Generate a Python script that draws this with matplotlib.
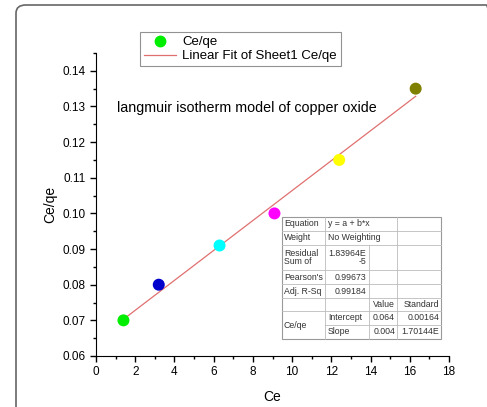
import matplotlib
matplotlib.use("Agg")
import matplotlib.pyplot as plt
from matplotlib.patches import FancyBboxPatch
from matplotlib.lines import Line2D
from matplotlib.ticker import MultipleLocator
import numpy as np

plt.rcParams['font.family'] = ['Liberation Sans', 'DejaVu Sans']

ce = [1.4, 3.2, 6.3, 9.1, 12.4, 16.3]
ce_qe = [0.070, 0.080, 0.091, 0.100, 0.115, 0.135]
point_colors = ['#00ee00', '#0000cc', '#00ffff', '#ff00ff', '#ffff00', '#808000']

table_rows = [
    ["Equation", "y = a + b*x", "", ""],
    ["Weight", "No Weighting", "", ""],
    ["Residual\nSum of", "1.83964E\n-5", "", ""],
    ["Pearson's", "0.99673", "", ""],
    ["Adj. R-Sq", "0.99184", "", ""],
    ["", "", "Value", "Standard"],
    ["Ce/qe", "Intercept", "0.064", "0.00164"],
    ["", "Slope", "0.004", "1.70144E"],
]

W, H = 487, 407
fig = plt.figure(figsize=(W / 100, H / 100), dpi=100)


def fx(px):
    return px / W


def fy(py):
    return 1 - py / H


# rounded outer frame
frame = FancyBboxPatch((fx(16), fy(420)), fx(480), fy(5) - fy(420),
                       boxstyle="round,pad=0,rounding_size=0.02",
                       transform=fig.transFigure, fill=False,
                       edgecolor='#666666', linewidth=1.2)
fig.patches.append(frame)

ax = fig.add_axes([fx(96), fy(356), fx(449) - fx(96), fy(53) - fy(356)])
ax.scatter(ce, ce_qe, c=point_colors, s=58, zorder=3, label='Ce/qe')

slope, intercept = np.polyfit(ce, ce_qe, 1)
xs = np.array([min(ce), max(ce)])
ax.plot(xs, intercept + slope * xs, color='#e07070', linewidth=0.9,
        label='Linear Fit of Sheet1 Ce/qe', zorder=2)

ax.set_xlim(0, 18)
ax.set_ylim(0.06, 0.145)
ax.set_yticks(np.arange(0.06, 0.141, 0.01))
ax.set_xticks(np.arange(0, 19, 2))
ax.yaxis.set_major_formatter(matplotlib.ticker.FormatStrFormatter('%.2f'))
ax.xaxis.set_minor_locator(MultipleLocator(1))
ax.yaxis.set_minor_locator(MultipleLocator(0.005))
ax.spines['top'].set_visible(False)
ax.spines['right'].set_visible(False)
ax.tick_params(which='major', direction='out', length=4, width=1, labelsize=8.5)
ax.tick_params(which='minor', direction='out', length=2.5, width=1)
ax.set_xlabel('Ce', fontsize=10, labelpad=8)
ax.set_ylabel('Ce/qe', fontsize=10)

ax.text(fx(117), fy(108), 'langmuir isotherm model of copper oxide',
        transform=fig.transFigure, fontsize=10.3, va='center', ha='left')

handles = [Line2D([], [], marker='o', color='none', markerfacecolor='#00ee00',
                  markeredgecolor='#00ee00', markersize=7.5),
           Line2D([], [], color='#e07070', linewidth=0.9)]
leg = ax.legend(handles, ['Ce/qe', 'Linear Fit of Sheet1 Ce/qe'],
                bbox_to_anchor=(fx(140), fy(32)), bbox_transform=fig.transFigure,
                loc='upper left', borderaxespad=0, fontsize=9.5, fancybox=False,
                handlelength=2.4, borderpad=0.3, labelspacing=0.15,
                handletextpad=0.5)
leg.get_frame().set_edgecolor('#777777')
leg.get_frame().set_linewidth(0.8)

# fit results table
cols = [282, 325, 369, 397, 441]
rows = [217, 231, 245, 270, 284, 298, 311, 325, 339]
tcol = '#bbbbbb'
fig.patches.append(plt.Rectangle((fx(282), fy(339)), fx(441) - fx(282), fy(217) - fy(339),
                                 transform=fig.transFigure, facecolor='white',
                                 edgecolor='#999999', linewidth=0.8, zorder=5))
for i, r in enumerate(rows[1:-1], start=1):
    x0 = 325 if i == 7 else 282
    fig.add_artist(Line2D([fx(x0), fx(441)], [fy(r), fy(r)], color=tcol, lw=0.6, zorder=6))
fig.add_artist(Line2D([fx(325), fx(325)], [fy(217), fy(339)], color=tcol, lw=0.6, zorder=6))
fig.add_artist(Line2D([fx(369), fx(369)], [fy(245), fy(339)], color=tcol, lw=0.6, zorder=6))
fig.add_artist(Line2D([fx(397), fx(397)], [fy(217), fy(339)], color=tcol, lw=0.6, zorder=6))

fs = 6.3
tc = '#333333'
for i, row in enumerate(table_rows):
    yc = (rows[i] + rows[i + 1]) / 2
    if i == 6:
        fig.text(fx(284), fy((rows[6] + rows[8]) / 2), row[0], fontsize=fs, color=tc,
                 va='center', zorder=7)
    elif i != 7:
        fig.text(fx(284), fy(yc), row[0], fontsize=fs, color=tc, va='center', zorder=7,
                 linespacing=1.0)
    if i in (0, 1, 6, 7):
        fig.text(fx(328), fy(yc), row[1], fontsize=fs, color=tc, va='center', zorder=7)
    elif i in (2, 3, 4):
        fig.text(fx(366), fy(yc), row[1], fontsize=fs, color=tc, va='center', ha='right',
                 zorder=7, linespacing=1.0, multialignment='right')
    if row[2]:
        fig.text(fx(395), fy(yc), row[2], fontsize=fs, color=tc, va='center', ha='right', zorder=7)
    if row[3]:
        fig.text(fx(439), fy(yc), row[3], fontsize=fs, color=tc, va='center', ha='right', zorder=7)

fig.savefig('out.png', dpi=100)
